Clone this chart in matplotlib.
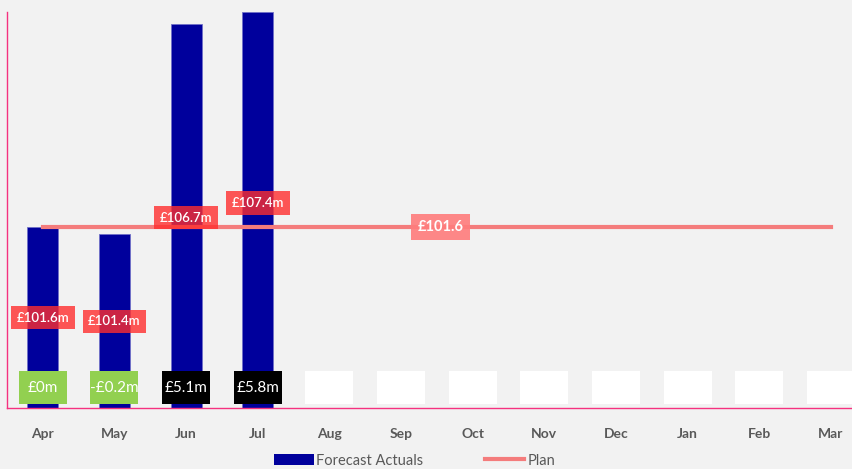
import matplotlib.pyplot as plt
from matplotlib.patches import Rectangle
from matplotlib.lines import Line2D
import matplotlib.transforms as mtransforms

# Data
months = ['Apr', 'May', 'Jun', 'Jul', 'Aug', 'Sep', 'Oct', 'Nov', 'Dec', 'Jan', 'Feb', 'Mar']
forecast = [101.6, 101.4, 107.1, 107.4]           # bar heights (£m)
forecast_labels = ['£101.6m', '£101.4m', '£106.7m', '£107.4m']
label_y = [99.15, 99.05, 101.85, 102.25]          # where the red labels sit
plan = 101.6
plan_label = '£101.6'
variance = [0, -0.2, 5.1, 5.8]
variance_labels = ['£0m', '-£0.2m', '£5.1m', '£5.8m']

bg = '#F2F2F2'
navy = '#00009C'
pink = '#F5317F'
plan_col = '#F47C7C'

plt.rcParams['font.family'] = ['Lato', 'DejaVu Sans']

fig = plt.figure(figsize=(8.53, 4.69), dpi=100, facecolor=bg)
ax = fig.add_axes([0.0082, 0.1294, 1.008, 0.8456])
ax.set_facecolor(bg)

x = list(range(len(months)))

# bars
ax.bar(x[:len(forecast)], forecast, width=0.43, color=navy,
       edgecolor='#7070C8', linewidth=0.6, zorder=2, label='Forecast Actuals')

# plan line
ax.plot([x[0], x[-1]], [plan, plan], color=plan_col, lw=3, zorder=3, label='Plan')
ax.text(5.55, plan, plan_label, ha='center', va='center', color='white',
        fontsize=10.5, fontweight='bold', zorder=5,
        bbox=dict(boxstyle='square,pad=0.42', fc='#FF7C7C', ec='none', alpha=0.9))

# forecast labels
for i, (lab, ly) in enumerate(zip(forecast_labels, label_y)):
    ax.text(i, ly, lab, ha='center', va='center', color='white',
            fontsize=9.5, fontweight='semibold', zorder=5,
            bbox=dict(boxstyle='square,pad=0.42', fc='#FF2E2E', ec='none', alpha=0.8))

# variance boxes along the bottom
trans = mtransforms.blended_transform_factory(ax.transData, ax.transAxes)
box_w = 0.67
for i in x:
    if i < len(variance):
        fc = '#92D050' if variance[i] <= 0 else 'black'
    else:
        fc = 'white'
    ax.add_patch(Rectangle((i - box_w / 2, 0.01), box_w, 0.083, transform=trans,
                           fc=fc, ec='none', zorder=4, clip_on=False))
    if i < len(variance):
        ax.text(i, 0.052, variance_labels[i], transform=trans, ha='center', va='center',
                color='white', fontsize=11, zorder=6)

ax.set_xlim(-0.5, 11.5)
ax.set_ylim(96.7, 107.42)
ax.set_xticks(x)
ax.set_xticklabels(months, color='#595959', fontsize=10, fontweight='bold')
ax.tick_params(axis='x', length=0, pad=14)
ax.set_yticks([])

for s in ['top', 'right']:
    ax.spines[s].set_visible(False)
for s in ['left', 'bottom']:
    ax.spines[s].set_color(pink)
    ax.spines[s].set_linewidth(1)

handles = [Rectangle((0, 0), 1, 1, fc=navy, ec='none'),
           Line2D([0], [0], color=plan_col, lw=3)]
fig.legend(handles, ['Forecast Actuals', 'Plan'], loc='center',
           bbox_to_anchor=(0.486, 0.018), ncol=2, frameon=False,
           fontsize=10.5, labelcolor='#595959', handlelength=2.7, handleheight=0.7,
           columnspacing=4.2, handletextpad=0.2)

fig.savefig('out.png', dpi=100, facecolor=bg)
